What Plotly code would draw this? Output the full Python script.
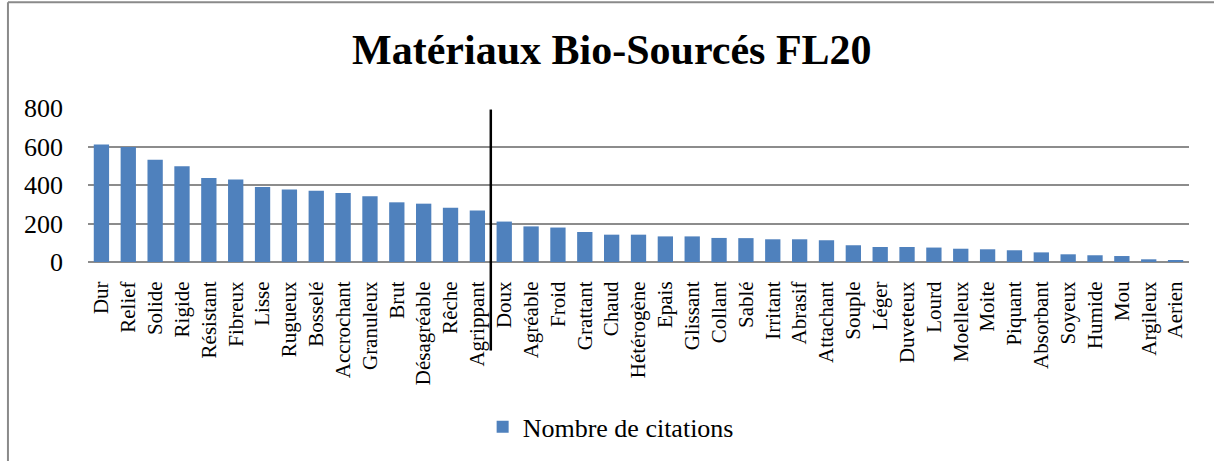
import plotly.graph_objects as go

categories = ["Dur", "Relief", "Solide", "Rigide", "Résistant", "Fibreux", "Lisse", "Rugueux",
              "Bosselé", "Accrochant", "Granuleux", "Brut", "Désagréable", "Rêche", "Agrippant",
              "Doux", "Agréable", "Froid", "Grattant", "Chaud", "Hétérogène", "Epais", "Glissant",
              "Collant", "Sablé", "Irritant", "Abrasif", "Attachant", "Souple", "Léger", "Duveteux",
              "Lourd", "Moelleux", "Moite", "Piquant", "Absorbant", "Soyeux", "Humide", "Mou",
              "Argileux", "Aerien"]
citations = [611, 597, 531, 497, 436, 429, 389, 377, 370, 358, 341, 310, 303, 282, 267,
             210, 185, 179, 156, 142, 142, 133, 133, 125, 124, 118, 118, 113, 87, 78, 78,
             75, 69, 66, 61, 50, 40, 35, 31, 14, 9]
y_ticks = [0, 200, 400, 600, 800]
split_after = 15  # vertical separator after "Agrippant"

FONT = "Liberation Serif, Times New Roman, serif"

fig = go.Figure()
fig.add_trace(go.Bar(
    x=categories, y=citations, name="Nombre de citations",
    marker=dict(color="#4F81BD", line=dict(width=0)),
))

n = len(categories)
fig.add_shape(type="line", xref="x domain", yref="paper",
              x0=split_after / n, x1=split_after / n, y0=-0.575, y1=0.99,
              line=dict(color="black", width=2.5))
# outer chart border (left and top)
fig.add_shape(type="line", xref="paper", yref="paper", x0=-0.0727, x1=-0.0727, y0=-1.35, y1=1.687,
              line=dict(color="#8a8a8a", width=2))
fig.add_shape(type="line", xref="paper", yref="paper", x0=-0.0727, x1=1.1, y0=1.687, y1=1.687,
              line=dict(color="#8a8a8a", width=2))

fig.update_layout(
    width=1214, height=461,
    margin=dict(l=88, r=25, t=108, b=199, autoexpand=False),
    paper_bgcolor="white", plot_bgcolor="white",
    font=dict(family=FONT, color="black"),
    title=dict(text="<b>Matériaux Bio-Sourcés FL20</b>", x=0.504, xanchor="center",
               y=0.893, yanchor="middle", font=dict(size=42, family=FONT, color="black")),
    bargap=0.43,
    showlegend=True,
    legend=dict(orientation="h", xref="container", yref="container",
                x=0.503, xanchor="center", y=0.074, yanchor="middle",
                font=dict(size=26, family=FONT), itemwidth=30),
    xaxis=dict(tickangle=-90, tickfont=dict(size=21, family=FONT), showgrid=False,
               showline=False, ticks="outside", ticklen=10, tickcolor="rgba(0,0,0,0)",
               automargin=False),
    yaxis=dict(range=[0, 800], tickvals=y_ticks, tickfont=dict(size=26, family=FONT),
               showgrid=True, gridcolor="#8c8c8c", gridwidth=2,
               zeroline=True, zerolinecolor="#8c8c8c", zerolinewidth=2,
               showline=False, ticks="", ticklabelstandoff=24, automargin=False),
)

fig.write_html("out.html", config={"displayModeBar": False},
               post_script="document.body.style.margin='0';")
